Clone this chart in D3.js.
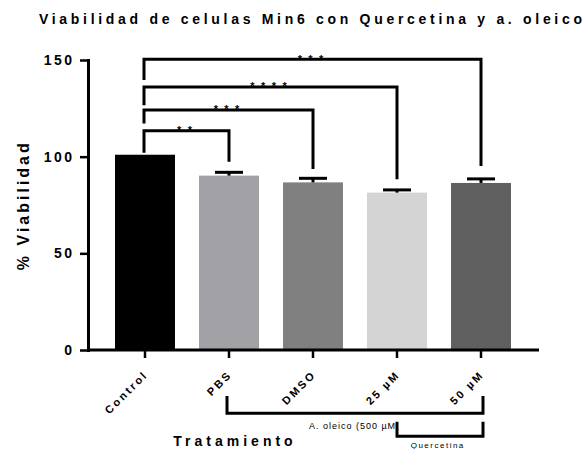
<!DOCTYPE html>
<html>
<head>
<meta charset="utf-8">
<script src="https://cdn.jsdelivr.net/npm/d3@7"></script>
<style>
  body { margin: 0; background: #fff; }
  svg { display: block; }
  text { font-family: "Liberation Sans", Arial, Helvetica, sans-serif; fill: #000; }
</style>
</head>
<body>
<svg id="chart" width="586" height="449"></svg>
<script>
// Cell viability (%) per treatment, mean and SD
const categories = ["Control", "PBS", "DMSO", "25 µM", "50 µM"];
const viability  = [101.0, 90.2, 86.7, 81.4, 86.4];
const errorSD    = [0, 1.7, 2.1, 1.4, 2.1];
const barColors  = ["#000000", "#a2a1a6", "#808080", "#d4d4d4", "#606060"];
const yTicks     = [0, 50, 100, 150];

// Pairwise comparisons against Control
const sigTargets   = ["PBS", "DMSO", "25 µM", "50 µM"];
const sigLabels    = ["**", "***", "****", "***"];
const sigLevels    = [113.4, 124.1, 136.0, 150.4];
const sigLeftEnds  = [102.0, 117.2, 126.6, 139.7];
const sigRightEnds = [97.4, 93.6, 88.3, 95.2];

// Treatment groups under the category axis
const groupLabels = ["A. oleico (500 µM", "Quercetina"];
const groupFrom   = ["PBS", "25 µM"];
const groupTo     = ["50 µM", "50 µM"];

const svg = d3.select("#chart");

const x = d3.scaleBand()
  .domain(categories)
  .range([103, 523])
  .paddingInner(0.286)
  .paddingOuter(0.143);
const y = d3.scaleLinear().domain([0, 150]).range([350, 60]);
const cx = c => x(c) + x.bandwidth() / 2;

// Bars
svg.append("g").selectAll("rect")
  .data(categories)
  .join("rect")
  .attr("x", d => x(d))
  .attr("width", x.bandwidth())
  .attr("y", (d, i) => y(viability[i]))
  .attr("height", (d, i) => y(0) - y(viability[i]))
  .attr("fill", (d, i) => barColors[i]);

// Error bars (upper SD)
const eb = svg.append("g").attr("stroke", "#000").attr("stroke-width", 3);
categories.forEach((c, i) => {
  if (!errorSD[i]) return;
  const top = y(viability[i] + errorSD[i]);
  eb.append("line").attr("x1", cx(c)).attr("x2", cx(c))
    .attr("y1", y(viability[i])).attr("y2", top);
  eb.append("line").attr("x1", cx(c) - 14).attr("x2", cx(c) + 14)
    .attr("y1", top).attr("y2", top);
});

// Y axis
const yAxis = svg.append("g")
  .attr("transform", "translate(88,0)")
  .call(d3.axisLeft(y).tickValues(yTicks).tickSize(8).tickSizeOuter(0).tickPadding(8));
yAxis.select(".domain").attr("stroke-width", 3).attr("stroke-linecap", "square");
yAxis.selectAll(".tick line").attr("stroke-width", 2.5);
yAxis.selectAll(".tick text")
  .attr("x", -16 + 2.5)
  .style("font-size", "14px").style("font-weight", "bold")
  .style("letter-spacing", "2.5px");

// X axis
const xAxis = svg.append("g")
  .attr("transform", "translate(0,350)")
  .call(d3.axisBottom(x).tickSize(8).tickSizeOuter(0));
xAxis.select(".domain").attr("d", "M88,0H539").attr("stroke-width", 3);
xAxis.selectAll(".tick line").attr("stroke-width", 2.5);
xAxis.selectAll(".tick text").remove();
const lsX = 2.4;
svg.append("g").selectAll("text")
  .data(categories)
  .join("text")
  .attr("transform", d => `translate(${cx(d) + 2},377) rotate(-45)`)
  .attr("x", lsX)
  .attr("text-anchor", "end")
  .style("font-size", "11px").style("font-weight", "bold")
  .style("letter-spacing", lsX + "px")
  .text(d => d);

// Significance brackets
const sig = svg.append("g");
sigTargets.forEach((t, i) => {
  const xl = cx("Control") - 1, xr = cx(t);
  const ly = y(sigLevels[i]);
  sig.append("path")
    .attr("d", `M${xl},${y(sigLeftEnds[i])}V${ly}H${xr}V${y(sigRightEnds[i])}`)
    .attr("fill", "none").attr("stroke", "#000").attr("stroke-width", 3);
  const n = sigLabels[i].length, mid = (xl + xr) / 2 - 2, step = 10.7;
  for (let k = 0; k < n; k++) {
    sig.append("text")
      .attr("x", mid + (k - (n - 1) / 2) * step)
      .attr("y", ly + 3.4)
      .attr("text-anchor", "middle")
      .style("font-size", "11px").style("font-weight", "bold")
      .text("*");
  }
});

// Group brackets under the axis
const grp = svg.append("g").attr("fill", "none").attr("stroke", "#000").attr("stroke-width", 3);
// A. oleico
{
  const xl = cx(groupFrom[0]) - 2, xr = cx(groupTo[0]) + 2;
  grp.append("path").attr("d", `M${xl},396V413.3H${xr}V396`);
  svg.append("text")
    .attr("x", (xl + xr) / 2 - 3 + 0.5).attr("y", 428.7)
    .attr("text-anchor", "middle")
    .style("font-size", "9px").style("letter-spacing", "1px")
    .text(groupLabels[0]);
}
// Quercetina
{
  const xl = cx(groupFrom[1]), xr = cx(groupTo[1]) + 2;
  grp.append("path").attr("d", `M${xl},421.7V436.3H${xr}V421.7`);
  svg.append("text")
    .attr("x", (xl + xr) / 2 - 3 + 0.75).attr("y", 447.5)
    .attr("text-anchor", "middle")
    .style("font-size", "8px").style("letter-spacing", "1.5px")
    .text(groupLabels[1]);
}
grp.raise();

// Axis titles
svg.append("text")
  .attr("transform", "translate(29,206.7) rotate(-90)")
  .attr("x", 1.5)
  .attr("text-anchor", "middle")
  .style("font-size", "16px").style("font-weight", "bold")
  .style("letter-spacing", "3px")
  .text("% Viabilidad");

svg.append("text")
  .attr("x", 233 + 2).attr("y", 446)
  .attr("text-anchor", "middle")
  .style("font-size", "14px").style("font-weight", "bold")
  .style("letter-spacing", "4px")
  .text("Tratamiento");

// Title
svg.append("text")
  .attr("x", 39).attr("y", 24)
  .attr("textLength", 543).attr("lengthAdjust", "spacing")
  .style("font-size", "14px").style("font-weight", "bold")
  .text("Viabilidad de celulas Min6 con Quercetina y a. oleico");
</script>
</body>
</html>
